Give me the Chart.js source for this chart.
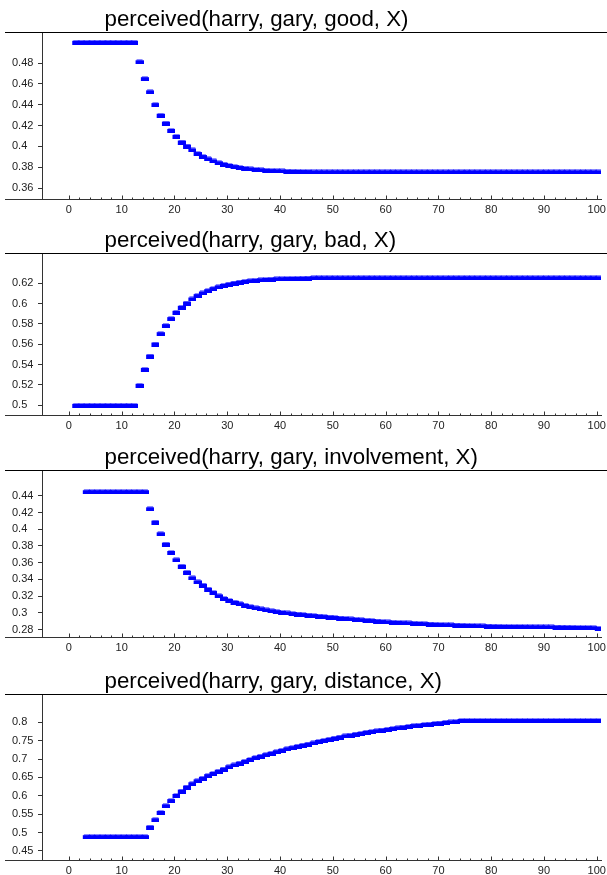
<!DOCTYPE html>
<html>
<head>
<meta charset="utf-8">
<script src="https://cdn.jsdelivr.net/npm/chart.js@4/dist/chart.umd.min.js"></script>
<style>
  html, body { margin: 0; padding: 0; background: #fff; width: 607px; height: 875px; overflow: hidden; }
  .panel { position: absolute; left: 0; width: 607px; }
</style>
</head>
<body>
<div class="panel" id="p1" style="top:0px;height:219px"><canvas id="c1" width="607" height="219"></canvas></div>
<div class="panel" id="p2" style="top:221px;height:214px"><canvas id="c2" width="607" height="214"></canvas></div>
<div class="panel" id="p3" style="top:438px;height:219px"><canvas id="c3" width="607" height="219"></canvas></div>
<div class="panel" id="p4" style="top:662px;height:218px"><canvas id="c4" width="607" height="218"></canvas></div>
<script>
// ---------- DATA ----------
const titles = [
  'perceived(harry, gary, good, X)',
  'perceived(harry, gary, bad, X)',
  'perceived(harry, gary, involvement, X)',
  'perceived(harry, gary, distance, X)'
];

const xValues = [1,2,3,4,5,6,7,8,9,10,11,12,13,14,15,16,17,18,19,20,
  21,22,23,24,25,26,27,28,29,30,31,32,33,34,35,36,37,38,39,40,
  41,42,43,44,45,46,47,48,49,50,51,52,53,54,55,56,57,58,59,60,
  61,62,63,64,65,66,67,68,69,70,71,72,73,74,75,76,77,78,79,80,
  81,82,83,84,85,86,87,88,89,90,91,92,93,94,95,96,97,98,99,100];

const xTickValues = [0,10,20,30,40,50,60,70,80,90,100];

const goodValues = [0.5,0.5,0.5,0.5,0.5,0.5,0.5,0.5,0.5,0.5,0.5,0.5,
  0.4813,0.4651,0.4524,0.4402,0.4300,0.4224,0.4154,0.4097,0.4042,0.4004,
  0.3966,0.3932,0.3903,0.3880,0.3860,0.3843,0.3829,0.3817,0.3806,0.3797,
  0.3790,0.3784,0.3779,0.3775,0.3771,0.3768,0.3766,0.3764,0.3762,0.3761,
  0.3760,0.3759,0.3758,
  0.3755,0.3755,0.3755,0.3755,0.3755,0.3755,0.3755,0.3755,0.3755,0.3755,
  0.3755,0.3755,0.3755,0.3755,0.3755,0.3755,0.3755,0.3755,0.3755,0.3755,
  0.3755,0.3755,0.3755,0.3755,0.3755,0.3755,0.3755,0.3755,0.3755,0.3755,
  0.3755,0.3755,0.3755,0.3755,0.3755,0.3755,0.3755,0.3755,0.3755,0.3755,
  0.3755,0.3755,0.3755,0.3755,0.3755,0.3755,0.3755,0.3755,0.3755,0.3755,
  0.3755,0.3755,0.3755,0.3755,0.3755];
const goodTicks = [0.36,0.38,0.40,0.42,0.44,0.46,0.48];

const badValues = [0.5,0.5,0.5,0.5,0.5,0.5,0.5,0.5,0.5,0.5,0.5,0.5,
  0.5197,0.5354,0.5485,0.5603,0.5705,0.5784,0.5853,0.5915,0.5964,0.6006,
  0.6046,0.6079,0.6105,0.6128,0.6148,0.6165,0.6180,0.6192,0.6203,0.6212,
  0.6219,0.6225,0.6230,0.6234,0.6238,0.6241,0.6243,0.6245,0.6247,0.6248,
  0.6249,0.6250,0.6251,
  0.6254,0.6254,0.6254,0.6254,0.6254,0.6254,0.6254,0.6254,0.6254,0.6254,
  0.6254,0.6254,0.6254,0.6254,0.6254,0.6254,0.6254,0.6254,0.6254,0.6254,
  0.6254,0.6254,0.6254,0.6254,0.6254,0.6254,0.6254,0.6254,0.6254,0.6254,
  0.6254,0.6254,0.6254,0.6254,0.6254,0.6254,0.6254,0.6254,0.6254,0.6254,
  0.6254,0.6254,0.6254,0.6254,0.6254,0.6254,0.6254,0.6254,0.6254,0.6254,
  0.6254,0.6254,0.6254,0.6254,0.6254];
const badTicks = [0.50,0.52,0.54,0.56,0.58,0.60,0.62];

const involvementValues = [null,null,
  0.4448,0.4448,0.4448,0.4448,0.4448,0.4448,0.4448,0.4448,0.4448,0.4448,0.4448,0.4448,
  0.4244,0.4085,0.3945,0.3822,0.3722,0.3634,0.3558,0.3486,0.3418,0.3370,
  0.3331,0.3283,0.3243,0.3203,0.3171,0.3148,0.3127,0.3108,0.3090,0.3074,
  0.3060,0.3047,0.3035,0.3024,0.3014,0.3005,0.2998,0.2991,0.2985,0.2979,
  0.2973,0.2967,0.2961,0.2955,0.2950,0.2944,0.2938,0.2933,0.2927,0.2922,
  0.2917,0.2912,0.2907,0.2902,0.2896,0.2891,0.2888,0.2885,0.2882,0.2879,
  0.2876,0.2873,0.2870,0.2866,0.2863,0.2860,0.2858,0.2856,0.2854,0.2852,
  0.2850,0.2848,0.2846,0.2844,0.2842,0.2840,0.2839,0.2838,0.2837,0.2836,
  0.2836,0.2835,0.2834,0.2833,0.2833,0.2832,0.2831,0.2830,0.2829,0.2828,
  0.2827,0.2826,0.2825,0.2824,0.2822,0.2815];
const involvementTicks = [0.28,0.30,0.32,0.34,0.36,0.38,0.40,0.42,0.44];

const distanceValues = [null,null,
  0.489,0.489,0.489,0.489,0.489,0.489,0.489,0.489,0.489,0.489,0.489,0.489,
  0.515,0.535,0.555,0.573,0.587,0.601,0.613,0.624,0.633,0.641,
  0.648,0.655,0.661,0.667,0.673,0.679,0.684,0.689,0.694,0.699,
  0.704,0.708,0.712,0.716,0.720,0.724,0.728,0.731,0.735,0.738,
  0.741,0.744,0.748,0.751,0.754,0.757,0.760,0.763,0.765,0.768,
  0.770,0.773,0.775,0.777,0.779,0.781,0.783,0.785,0.787,0.789,
  0.791,0.792,0.794,0.795,0.797,0.798,0.800,0.801,0.802,
  0.805,0.805,0.805,0.805,0.805,0.805,0.805,0.805,0.805,0.805,
  0.805,0.805,0.805,0.805,0.805,0.805,0.805,0.805,0.805,0.805,
  0.805,0.805,0.805,0.805,0.805,0.805,0.805];
const distanceTicks = [0.45,0.50,0.55,0.60,0.65,0.70,0.75,0.80];

const yRanges = [[0.3495,0.5099],[0.4905,0.6498],[0.2711,0.4708],[0.4255,0.877]];
const xRange = [-5.1, 100.8];

// ---------- DRAWING ----------
const FONT = '"Liberation Sans", Arial, sans-serif';

// point symbol: a short thick blue dash, drawn slightly right of the point (as in the original renderer)
const dash = document.createElement('canvas');
dash.width = 12; dash.height = 5;
(function () {
  const g = dash.getContext('2d');
  g.fillStyle = '#0000ff';
  g.fillRect(4, 1, 8, 4);
  g.fillStyle = 'rgba(0,0,255,0.45)';
  g.fillRect(5, 0, 6, 1);
})();

const framePlugin = {
  id: 'frame',
  afterDraw(chart, args, opts) {
    const {ctx, chartArea: a} = chart;
    const x = chart.scales.x;
    ctx.save();
    ctx.lineWidth = 1;
    const top = Math.round(a.top) + 0.5;
    const bot = Math.round(a.bottom) + 0.5;
    ctx.strokeStyle = '#000';
    ctx.beginPath();
    ctx.moveTo(5, top); ctx.lineTo(chart.width, top);
    ctx.stroke();
    ctx.strokeStyle = '#333';
    ctx.beginPath();
    ctx.moveTo(5, bot); ctx.lineTo(a.left, bot);
    for (let v = 0; v <= 100; v += 2) {
      const px = Math.round(x.getPixelForValue(v)) + 0.5;
      const len = (v % 10 === 0) ? 4 : 2;
      ctx.moveTo(px, bot); ctx.lineTo(px, bot - len);
    }
    ctx.stroke();
    ctx.fillStyle = '#000';
    ctx.font = '22.3px ' + FONT;
    ctx.textBaseline = 'alphabetic';
    ctx.textAlign = 'left';
    ctx.fillText(opts.text, 104.5, a.top - 6);
    ctx.restore();
  }
};

function fmt(v) { return String(Number(v.toFixed(2))); }

function makeChart(id, title, yValues, yTicks, yRange) {
  const pts = xValues.map((xv, i) => ({x: xv, y: yValues[i]})).filter(p => p.y !== null);
  return new Chart(document.getElementById(id), {
    type: 'scatter',
    data: { datasets: [{
      data: pts,
      pointStyle: dash,
      pointRadius: 4,
      pointHoverRadius: 4,
      borderWidth: 0,
      borderColor: '#0000ff',
      backgroundColor: '#0000ff',
      showLine: false
    }]},
    options: {
      responsive: false,
      animation: false,
      devicePixelRatio: 1,
      layout: { padding: { top: 32, left: 12, right: 6, bottom: 0 } },
      plugins: { legend: { display: false }, title: { display: false }, tooltip: { enabled: false }, frame: { text: title } },
      scales: {
        x: {
          type: 'linear', position: 'bottom',
          min: xRange[0], max: xRange[1],
          afterBuildTicks: s => { s.ticks = xTickValues.map(v => ({value: v})); },
          afterFit: s => { s.height = 20; },
          grid: { display: false },
          border: { display: true, color: '#333', width: 1 },
          ticks: { font: { family: FONT, size: 11 }, color: '#222', padding: -4, maxRotation: 0, autoSkip: false }
        },
        y: {
          type: 'linear', position: 'left',
          min: yRange[0], max: yRange[1],
          afterBuildTicks: s => { s.ticks = yTicks.map(v => ({value: v})); },
          afterFit: s => { s.width = 30; },
          grid: { display: true, drawOnChartArea: false, drawTicks: true, tickLength: 4, color: '#333' },
          border: { display: true, color: '#333', width: 1 },
          ticks: { font: { family: FONT, size: 11 }, color: '#222', padding: 3, crossAlign: 'far', callback: v => fmt(v), autoSkip: false }
        }
      }
    },
    plugins: [framePlugin]
  });
}

makeChart('c1', titles[0], goodValues, goodTicks, yRanges[0]);
makeChart('c2', titles[1], badValues, badTicks, yRanges[1]);
makeChart('c3', titles[2], involvementValues, involvementTicks, yRanges[2]);
makeChart('c4', titles[3], distanceValues, distanceTicks, yRanges[3]);
</script>
</body>
</html>
